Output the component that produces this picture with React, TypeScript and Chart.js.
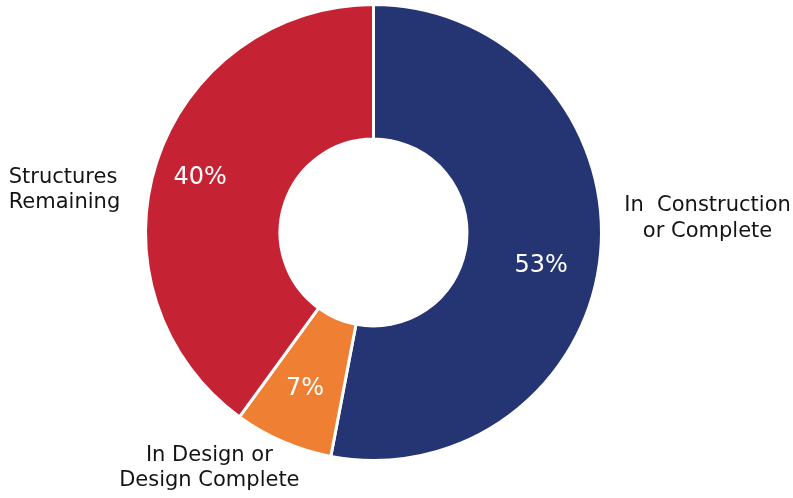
import React, { useEffect, useRef } from "react";
import { Chart, registerables } from "chart.js";

Chart.register(...registerables);

const categories = ["In Construction or Complete", "In Design or Design Complete", "Structures Remaining"];
const values = [53, 7, 40];
const colors = ["#253473", "#EE7F33", "#C52233"];
const percentLabels = ["53%", "7%", "40%"];

const labelPlugin = {
  id: "outerLabels",
  afterDraw(chart: any) {
    const ctx = chart.ctx;
    const meta = chart.getDatasetMeta(0);
    const arc = meta.data[0];
    if (!arc) return;
    const cx = arc.x;
    const cy = arc.y;
    const R = arc.outerRadius;
    ctx.save();
    ctx.fillStyle = "#ffffff";
    ctx.font = "24px 'DejaVu Sans'";
    ctx.textAlign = "center";
    ctx.textBaseline = "middle";
    const pOff = [
      [0.735, 0.145],
      [-0.3, 0.685],
      [-0.76, -0.24],
    ];
    meta.data.forEach((_: any, i: number) => {
      ctx.fillText(percentLabels[i], cx + pOff[i][0] * R, cy + pOff[i][1] * R);
    });
    ctx.fillStyle = "#141414";
    ctx.font = "21px 'DejaVu Sans'";
    ctx.textAlign = "center";
    ctx.fillText("In  Construction", cx + 1.465 * R, cy - 0.12 * R);
    ctx.fillText("or Complete", cx + 1.465 * R, cy - 0.005 * R);
    ctx.fillText("In Design or", cx - 0.72 * R, cy + 0.98 * R);
    ctx.fillText("Design Complete", cx - 0.72 * R, cy + 1.09 * R);
    ctx.textAlign = "left";
    ctx.fillText("Structures", cx - 1.6 * R, cy - 0.24 * R);
    ctx.fillText("Remaining", cx - 1.6 * R, cy - 0.13 * R);
    ctx.restore();
  },
};

export default function App() {
  const ref = useRef<HTMLCanvasElement>(null);
  useEffect(() => {
    if (!ref.current) return;
    const chart = new Chart(ref.current, {
      type: "doughnut",
      data: {
        labels: categories,
        datasets: [
          {
            data: values,
            backgroundColor: colors,
            borderColor: "#ffffff",
            borderWidth: 3,
          },
        ],
      },
      options: {
        animation: false,
        responsive: false,
        cutout: "41%",
        layout: { padding: { top: 3, bottom: 36, left: 144, right: 190 } },
        plugins: {
          legend: { display: false },
          tooltip: { enabled: false },
        },
      },
      plugins: [labelPlugin],
    });
    return () => chart.destroy();
  }, []);
  return (
    <div style={{ position: "fixed", left: 0, top: 0, width: 793, height: 498, background: "#fff" }}>
      <canvas ref={ref} width={793} height={498} style={{ width: 793, height: 498 }} />
    </div>
  );
}
